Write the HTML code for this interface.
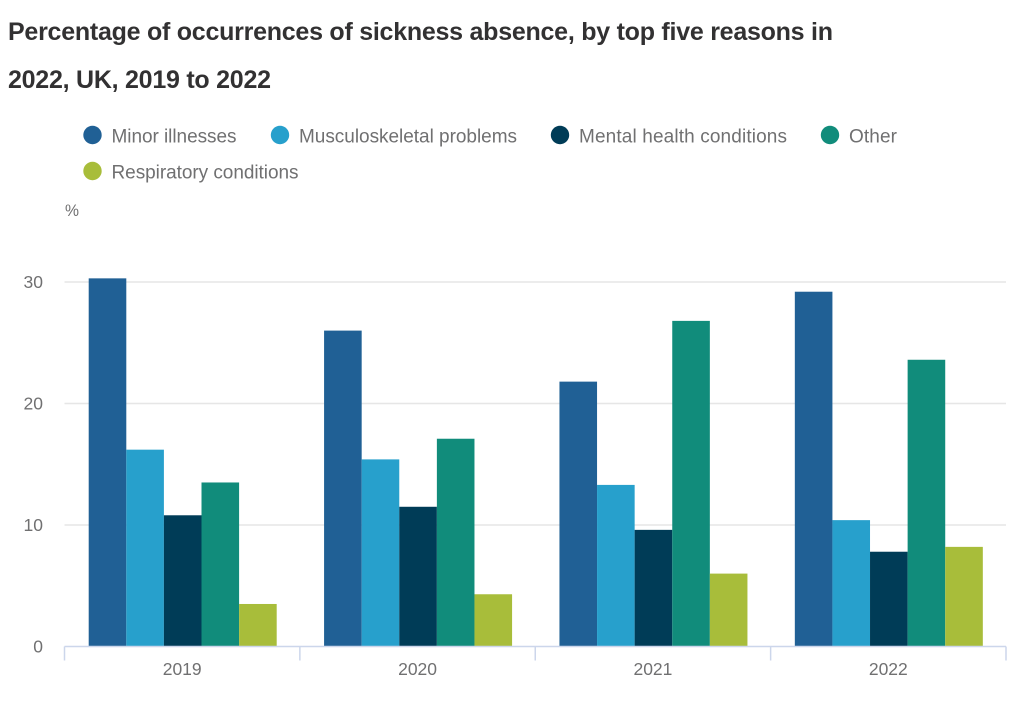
<!DOCTYPE html>
<html lang="en">
<head>
<meta charset="utf-8">
<title>Percentage of occurrences of sickness absence</title>
<style>
html,body{margin:0;padding:0;background:#fff;width:1017px;height:721px;overflow:hidden}
svg{display:block}
text{font-family:"Liberation Sans","DejaVu Sans",sans-serif}
</style>
</head>
<body>
<svg id="chart" width="1017" height="721" viewBox="0 0 1017 721" xmlns="http://www.w3.org/2000/svg">
  <text x="8" y="40" font-size="25" font-weight="700" fill="#323132" textLength="825" lengthAdjust="spacing">Percentage of occurrences of sickness absence, by top five reasons in</text>
  <text x="8" y="88" font-size="25" font-weight="700" fill="#323132" textLength="263" lengthAdjust="spacing">2022, UK, 2019 to 2022</text>
  <g id="legend"></g>
  <text x="65" y="216" font-size="17" fill="#707071" textLength="14" lengthAdjust="spacingAndGlyphs">%</text>
  <g id="grid"></g>
  <g id="bars"></g>
  <g id="axes"></g>
</svg>
<script>
const categories = ['2019', '2020', '2021', '2022'];
const seriesNames = ['Minor illnesses', 'Musculoskeletal problems', 'Mental health conditions', 'Other', 'Respiratory conditions'];
const minorIllnesses = [30.3, 26.0, 21.8, 29.2];
const musculoskeletal = [16.2, 15.4, 13.3, 10.4];
const mentalHealth = [10.8, 11.5, 9.6, 7.8];
const other = [13.5, 17.1, 26.8, 23.6];
const respiratory = [3.5, 4.3, 6.0, 8.2];
const yTicks = [0, 10, 20, 30];

const seriesValues = [minorIllnesses, musculoskeletal, mentalHealth, other, respiratory];
const colors = ['#206095', '#27a0cc', '#003c57', '#118c7b', '#a8bd3a'];
const NS = 'http://www.w3.org/2000/svg';
const plotLeft = 64.5, plotRight = 1006, baseY = 646.5, unit = 12.15;
const catW = (plotRight - plotLeft) / categories.length;
const inset = 24.2, barW = 37.6;
const yScale = v => baseY - v * unit;
const xScale = (c, s) => plotLeft + c * catW + inset + s * barW;

function mk(tag, parent, attrs, txt) {
  const el = document.createElementNS(NS, tag);
  for (const k in attrs) el.setAttribute(k, attrs[k]);
  if (txt !== undefined) el.textContent = txt;
  parent.appendChild(el);
  return el;
}

const grid = document.getElementById('grid');
const axes = document.getElementById('axes');
const bars = document.getElementById('bars');
const legend = document.getElementById('legend');

yTicks.forEach(t => {
  if (t > 0) {
    const line = mk('line', grid, {x1: plotLeft, x2: plotRight, y1: yScale(t), y2: yScale(t), stroke: '#e6e6e6', 'stroke-width': 1.5});
    
    
  }
  const lab = mk('text', axes, {x: 43, y: yScale(t) + 6, 'text-anchor': 'end', 'font-size': 17.5, fill: '#707071'}, String(t));
  
  
});

seriesValues.forEach((vals, s) => {
  vals.forEach((v, c) => {
    const r = mk('rect', bars, {x: xScale(c, s), y: yScale(v), width: barW, height: baseY - yScale(v), fill: colors[s]});
    
    
  });
});

const axisLine = mk('line', axes, {x1: plotLeft, x2: plotRight, y1: baseY, y2: baseY, stroke: '#ccd6eb', 'stroke-width': 1.5});


for (let i = 0; i <= categories.length; i++) {
  const x = plotLeft + i * catW;
  const tick = mk('line', axes, {x1: x, x2: x, y1: baseY, y2: 660.5, stroke: '#ccd6eb', 'stroke-width': 1.5});
  
  
}
categories.forEach((cat, c) => {
  const lab = mk('text', axes, {x: plotLeft + (c + 0.5) * catW, y: 675, 'text-anchor': 'middle', 'font-size': 17.5, fill: '#707071'}, cat);
  
  
});

const legendX = [92.5, 280, 560, 830, 92.5];
const legendY = [135, 135, 135, 135, 171];
const legendLen = [125, 218, 208, 48, 187];
seriesNames.forEach((name, i) => {
  const g = mk('g', legend, {});
  
  
  const dot = mk('circle', g, {cx: legendX[i], cy: legendY[i], r: 9.2, fill: colors[i]});
  
  
  const t = mk('text', g, {x: legendX[i] + 19, y: legendY[i] + 7.5, 'font-size': 19, fill: '#707071', textLength: legendLen[i], lengthAdjust: 'spacing'}, name);
  
  
});
</script>
</body>
</html>
